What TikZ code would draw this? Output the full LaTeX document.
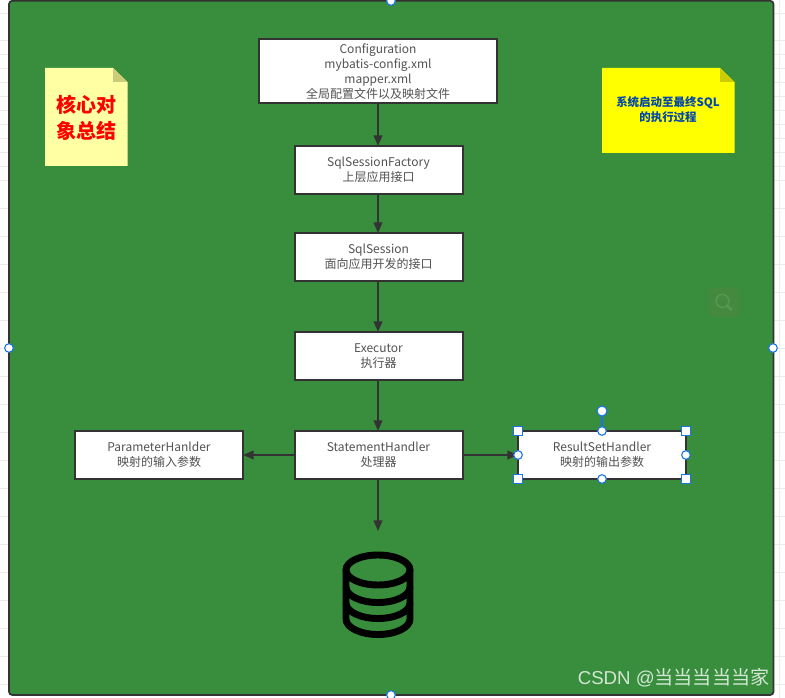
\documentclass[tikz,border=0pt]{standalone}
\usepackage{fontspec}
\setmainfont{Liberation Sans}
\newfontfamily\cjk{Noto Sans CJK SC}
\usetikzlibrary{arrows.meta}
\definecolor{panelgreen}{HTML}{388E3C}
\definecolor{edge}{HTML}{333333}
\definecolor{handle}{HTML}{1A73E8}
\definecolor{gridc}{HTML}{EBEBEB}
\definecolor{notelight}{HTML}{FFFFA3}
\definecolor{notelightfold}{HTML}{CCCC78}
\definecolor{noteyellow}{HTML}{FFFF00}
\definecolor{noteyellowfold}{HTML}{CCCC00}
\definecolor{noteblue}{HTML}{0047AB}
\definecolor{pure red}{HTML}{FF0000}
\tikzset{
  x=0.75pt,y=-0.75pt,
  procbox/.style={draw=edge,line width=1.5pt,outer sep=0pt,fill=white,minimum width=126pt,minimum height=36pt,inner sep=0pt,align=center,text=edge!85!white,font=\cjk\fontsize{9pt}{11pt}\selectfont},
  flow/.style={draw=edge,line width=1.4pt,-{Triangle[length=8pt,width=6.5pt]}},
  round handle/.style={circle,draw=handle,fill=white,line width=0.8pt,minimum size=6.5pt,inner sep=0pt},
  square handle/.style={rectangle,draw=handle,fill=white,line width=0.9pt,minimum size=6.5pt,inner sep=0pt},
  note text/.style={inner sep=0pt,align=center,font=\cjk\bfseries},
}
\begin{document}
\begin{tikzpicture}
\useasboundingbox (0,0) rectangle (785,698);
\fill[white] (0,0) rectangle (785,698);
% faint grid behind the panel
\foreach \y in {13,40,54,68,82,96,110,124,138,152,166,180,208,236,264,292,320,348,376,404,432,460,488,516,544,572,600,628,656,684}
  \draw[gridc,line width=0.5pt] (0,\y) -- (785,\y);
\foreach \x in {779}
  \draw[gridc,line width=0.5pt] (\x,0) -- (\x,698);
% panel
\draw[edge,line width=1.3pt,fill=panelgreen,rounded corners=2.5pt] (9,0.8) rectangle (773.5,695);
% notes
\fill[notelight] (45,68) -- (113,68) -- (127.5,82) -- (127.5,166) -- (45,166) -- cycle;
\fill[notelightfold] (113,68) -- (127.5,82) -- (113,82) -- cycle;
\node[note text,text=pure red,font=\cjk\bfseries\fontsize{15pt}{19.5pt}\selectfont] (coreNote) at (86.5,117.5) {核心对\\象总结};
\fill[noteyellow] (602,68) -- (720,68) -- (734.5,82) -- (734.5,153) -- (602,153) -- cycle;
\fill[noteyellowfold] (720,68) -- (734.5,82) -- (720,82) -- cycle;
\node[note text,text=noteblue,font=\cjk\bfseries\fontsize{8.6pt}{11.4pt}\selectfont] (flowNote) at (668,110) {系统启动至最终SQL\\的执行过程};
% boxes
\node[procbox,minimum width=178pt,minimum height=48pt,font=\cjk\fontsize{9pt}{11.2pt}\selectfont] (config) at (378,71.5) {Configuration\\mybatis-config.xml\\mapper.xml\\全局配置文件以及映射文件};
\node[procbox] (factory) at (378.5,170) {SqlSessionFactory\\上层应用接口};
\node[procbox] (session) at (378.5,257) {SqlSession\\面向应用开发的接口};
\node[procbox] (executor) at (378.5,356) {Executor\\执行器};
\node[procbox] (stmt) at (378.5,455) {StatementHandler\\处理器};
\node[procbox] (param) at (159,455) {ParameterHanlder\\映射的输入参数};
\node[procbox] (result) at (602,455) {ResultSetHandler\\映射的输出参数};
\coordinate (dbTop) at (378,531);
% connectors
\draw[flow] (config.south) -- (factory.north -| config);
\draw[flow] (factory.south -| config) -- (session.north -| config);
\draw[flow] (session.south -| config) -- (executor.north -| config);
\draw[flow] (executor.south -| config) -- (stmt.north -| config);
\draw[flow] (stmt) -- (param);
\draw[flow] (stmt) -- (result);
\draw[flow] (stmt.south -| dbTop) -- (dbTop);
% database icon
\begin{scope}[black,line width=5.2pt]
\draw (378,570) ellipse [x radius=32,y radius=15];
\draw (346,570) -- (346,619) arc[start angle=180,end angle=0,x radius=32,y radius=15.5] -- (410,570);
\draw (346,587) arc[start angle=180,end angle=0,x radius=32,y radius=15.5];
\draw (346,603) arc[start angle=180,end angle=0,x radius=32,y radius=15.5];
\end{scope}
% selection handles
\draw[handle,line width=1pt] (result.north) -- ++(0,-20) node[round handle,minimum size=7.5pt,pos=1] (rotate) {};
\foreach \a/\n in {north west/hnw,north east/hne,south west/hsw,south east/hse}
  \node[square handle] (\n) at (result.\a) {};
\foreach \a/\n in {north/hn,south/hs,west/hw,east/he}
  \node[round handle] (\n) at (result.\a) {};
\node[round handle] (ptop) at (391,1) {};
\node[round handle] (pbot) at (391,695) {};
\node[round handle] (pleft) at (9,348) {};
\node[round handle] (pright) at (773,348) {};
% zoom widget
\fill[fill={rgb,255:red,68;green,137;blue,62},rounded corners=3pt] (709,287.5) rectangle (739,317);
\draw[fill=none,draw={rgb,255:red,84;green,154;blue,84},line width=1pt] (722.5,301) circle [radius=6.5];
\draw[draw={rgb,255:red,84;green,154;blue,84},line width=1.6pt,line cap=round] (727.5,306) -- (731,309.5);
% watermark
\node[inner sep=0pt,anchor=east,text=white!78!panelgreen,font=\cjk\fontsize{14.3pt}{16pt}\selectfont] (mark) at (769.5,678) {\fontspec{Liberation Sans}\fontsize{14pt}{16pt}\selectfont CSDN @\cjk\fontsize{14.3pt}{16pt}\selectfont 当当当当当家};
\end{tikzpicture}
\end{document}
